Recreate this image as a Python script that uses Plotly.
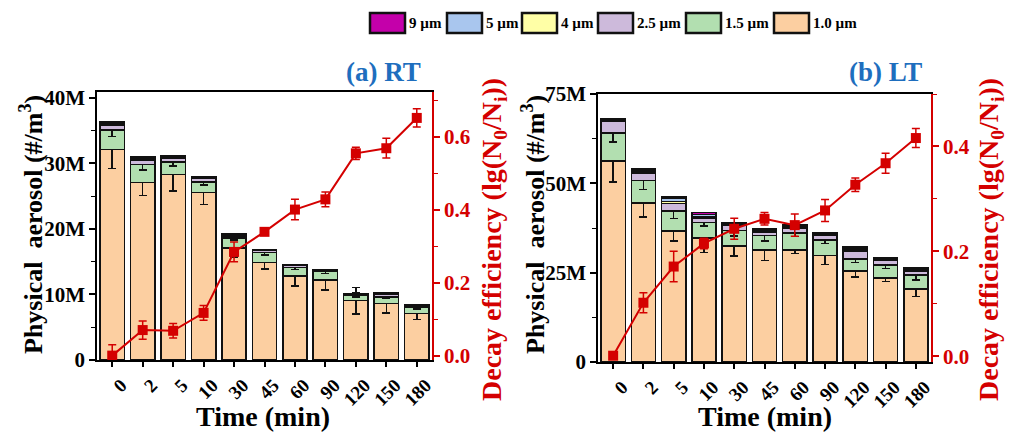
import plotly.graph_objects as go

W, H = 1032, 441

times = ["0", "2", "5", "10", "30", "45", "60", "90", "120", "150", "180"]
sizes = ["1.0 µm", "1.5 µm", "2.5 µm", "4 µm", "5 µm", "9 µm"]
colors = ["#FCCFA1", "#B2DFB0", "#CDBADB", "#FFFFA6", "#A9C6EE", "#C400AA"]

# (a) RT, values in millions #/m3
rt_10 = [32.1, 27.1, 28.3, 25.6, 17.1, 14.9, 12.8, 12.2, 9.05, 8.65, 7.1]
rt_15 = [3.0, 2.7, 1.9, 1.6, 1.55, 1.5, 1.3, 1.3, 0.85, 1.0, 0.9]
rt_25 = [0.7, 0.7, 0.6, 0.5, 0.3, 0.3, 0.3, 0.15, 0.1, 0.35, 0.2]
rt_4 = [0.2, 0.2, 0.15, 0.1, 0.1, 0.08, 0.1, 0.06, 0.04, 0.1, 0.08]
rt_5 = [0.25, 0.2, 0.15, 0.1, 0.1, 0.08, 0.06, 0.05, 0.04, 0.12, 0.07]
rt_9 = [0.15, 0.1, 0.1, 0.05, 0.05, 0.04, 0.04, 0.04, 0.02, 0.08, 0.05]
rt_10_err = [2.9, 2.0, 2.5, 1.9, 1.4, 1.0, 1.5, 1.5, 2.0, 1.5, 0.9]
rt_15_err = [1.0, 0.8, 0.6, 0.5, 0.3, 0.4, 0.3, 0.3, 0.3, 0.3, 0.2]
rt_decay = [0.0, 0.07, 0.068, 0.117, 0.284, 0.339, 0.40, 0.428, 0.554, 0.568, 0.651]
rt_decay_err = [0.03, 0.025, 0.02, 0.02, 0.027, 0.005, 0.028, 0.02, 0.017, 0.027, 0.025]

# (b) LT
lt_10 = [56.2, 44.5, 36.6, 34.7, 32.4, 31.4, 31.4, 29.8, 25.4, 23.5, 20.4]
lt_15 = [7.9, 6.3, 5.6, 4.4, 4.4, 4.0, 4.7, 4.4, 3.4, 3.7, 4.0]
lt_25 = [3.4, 2.1, 2.1, 1.2, 1.4, 0.9, 1.4, 1.2, 2.2, 1.2, 1.1]
lt_4 = [0.2, 0.3, 0.6, 0.4, 0.3, 0.3, 0.3, 0.3, 0.4, 0.3, 0.3]
lt_5 = [0.3, 0.5, 0.8, 0.6, 0.3, 0.4, 0.3, 0.3, 0.5, 0.3, 0.3]
lt_9 = [0.2, 0.4, 0.5, 0.6, 0.3, 0.3, 0.3, 0.3, 0.3, 0.3, 0.2]
lt_10_err = [5.8, 3.9, 2.8, 4.0, 2.8, 3.0, 1.0, 2.5, 1.6, 1.0, 2.0]
lt_15_err = [2.5, 2.5, 2.0, 1.0, 1.5, 1.5, 1.0, 1.0, 1.0, 1.0, 1.5]
lt_decay = [0.001, 0.102, 0.171, 0.215, 0.243, 0.262, 0.250, 0.278, 0.327, 0.368, 0.416]
lt_decay_err = [0.0, 0.019, 0.029, 0.01, 0.02, 0.012, 0.021, 0.021, 0.013, 0.019, 0.018]

FONT = "Liberation Serif"
RED = "#D40000"
BLUE = "#1E6EBE"

fig = go.Figure()


def px_x(p):
    return p / W


def px_y(p):
    return 1 - p / H


def add_panel(xa, ya, ya2, segs, errs, decay, decay_err):
    for i, (vals, col) in enumerate(zip(segs, colors)):
        e = errs[i] if i < len(errs) else None
        fig.add_trace(go.Bar(
            x=times, y=[v * 1e6 for v in vals], name=sizes[i], showlegend=False,
            marker=dict(color=col, line=dict(color="#111111", width=1.5)),
            width=0.8, xaxis=xa, yaxis=ya,
            error_y=(dict(type="data", array=[v * 1e6 for v in e], color="#111111",
                          thickness=1.5, width=4) if e else None),
        ))
    fig.add_trace(go.Scatter(
        x=times, y=decay, mode="lines+markers", showlegend=False,
        line=dict(color=RED, width=2),
        marker=dict(symbol="square", size=10, color=RED),
        error_y=dict(type="data", array=decay_err, color=RED, thickness=1.5, width=4),
        xaxis=xa, yaxis=ya2,
    ))


add_panel("x", "y", "y2", [rt_10, rt_15, rt_25, rt_4, rt_5, rt_9],
          [rt_10_err, rt_15_err], rt_decay, rt_decay_err)
add_panel("x2", "y3", "y4", [lt_10, lt_15, lt_25, lt_4, lt_5, lt_9],
          [lt_10_err, lt_15_err], lt_decay, lt_decay_err)

tickfont = dict(family=FONT, size=21, color="black", weight="bold")
redfont = dict(family=FONT, size=21, color=RED, weight="bold")


def xaxis(dom, anchor):
    return dict(domain=dom, anchor=anchor, type="category", range=[-0.5, 10.5],
                showline=True, linecolor="black", linewidth=1.5, mirror=True,
                ticks="outside", ticklen=5, tickwidth=1.5, tickcolor="black",
                tickangle=-45, ticklabelshift=9,
                tickfont=dict(family=FONT, size=19, color="black", weight="bold"),
                showgrid=False, automargin=False, zeroline=False)


def yleft(dom, anchor, rng, dtick, minor):
    return dict(domain=dom, anchor=anchor, range=rng, dtick=dtick, tickformat="~s",
                showline=True, linecolor="black", linewidth=1.5,
                ticks="outside", ticklen=6, tickwidth=1.5, tickcolor="black",
                minor=dict(dtick=minor, ticks="outside", ticklen=4, tickcolor="black", tickwidth=1.2),
                tickfont=tickfont, showgrid=False, zeroline=False, automargin=False)


def yright(anchor, overlay, rng, minor):
    return dict(overlaying=overlay, anchor=anchor, side="right", range=rng, dtick=0.2,
                tickformat=".1f", showline=True, linecolor=RED, linewidth=1.5,
                ticks="outside", ticklen=6, tickwidth=1.5, tickcolor=RED,
                minor=dict(dtick=minor, ticks="outside", ticklen=4, tickcolor=RED, tickwidth=1.2),
                tickfont=redfont, showgrid=False, zeroline=False, automargin=False)


fig.update_layout(
    width=W, height=H, margin=dict(l=0, r=0, t=0, b=0, pad=0),
    paper_bgcolor="white", plot_bgcolor="white",
    barmode="stack", bargap=0.2,
    xaxis=xaxis([px_x(97), px_x(432)], "y"),
    yaxis=yleft([px_y(360), px_y(92)], "x", [0, 40.9e6], 10e6, 5e6),
    yaxis2=yright("x", "y", [-0.012, 0.722], 0.1),
    xaxis2=xaxis([px_x(598), px_x(931)], "y3"),
    yaxis3=yleft([px_y(362), px_y(94)], "x2", [0, 75e6], 25e6, 12.5e6),
    yaxis4=yright("x2", "y3", [-0.011, 0.50], 0.1),
)

ann = []
title_font = dict(family=FONT, size=26, color="black")
red_title = dict(family=FONT, size=28, color=RED)
for cx in (31, 533):
    ann.append(dict(x=px_x(cx), y=px_y(225), xref="paper", yref="paper",
                    text="<b>Physical  aerosol (#/m<sup>3</sup>)</b>", textangle=-90,
                    showarrow=False, font=title_font, xanchor="center", yanchor="middle"))
for cx in (493, 990):
    ann.append(dict(x=px_x(cx), y=px_y(240), xref="paper", yref="paper",
                    text="<b>Decay efficiency (lg(N<sub>0</sub>/N<sub>i</sub>))</b>", textangle=-90,
                    showarrow=False, font=red_title, xanchor="center", yanchor="middle"))
for cx in (263, 765):
    ann.append(dict(x=px_x(cx), y=px_y(416), xref="paper", yref="paper",
                    text="<b>Time (min)</b>", showarrow=False,
                    font=dict(family=FONT, size=28, color="black"),
                    xanchor="center", yanchor="middle"))
for cx, t in ((383, "(a) RT"), (885, "(b) LT")):
    ann.append(dict(x=px_x(cx), y=px_y(72), xref="paper", yref="paper",
                    text="<b>" + t + "</b>", showarrow=False,
                    font=dict(family=FONT, size=27, color=BLUE),
                    xanchor="center", yanchor="middle"))

# legend (drawn as layout swatches, reversed order as in the original)
shapes = []
leg_x = [370, 447, 522, 598, 686, 774]
leg_order = list(range(len(sizes)))[::-1]
for lx, idx in zip(leg_x, leg_order):
    shapes.append(dict(type="rect", xref="paper", yref="paper",
                       x0=px_x(lx), x1=px_x(lx + 35), y0=px_y(33), y1=px_y(13),
                       fillcolor=colors[idx], line=dict(color="#111111", width=2.5)))
    ann.append(dict(x=px_x(lx + 37), y=px_y(23), xref="paper", yref="paper",
                    text="<b>" + sizes[idx] + "</b>", showarrow=False,
                    font=dict(family=FONT, size=15, color="black"),
                    xanchor="left", yanchor="middle"))

fig.update_layout(annotations=ann, shapes=shapes)
fig.write_html("out.html")
